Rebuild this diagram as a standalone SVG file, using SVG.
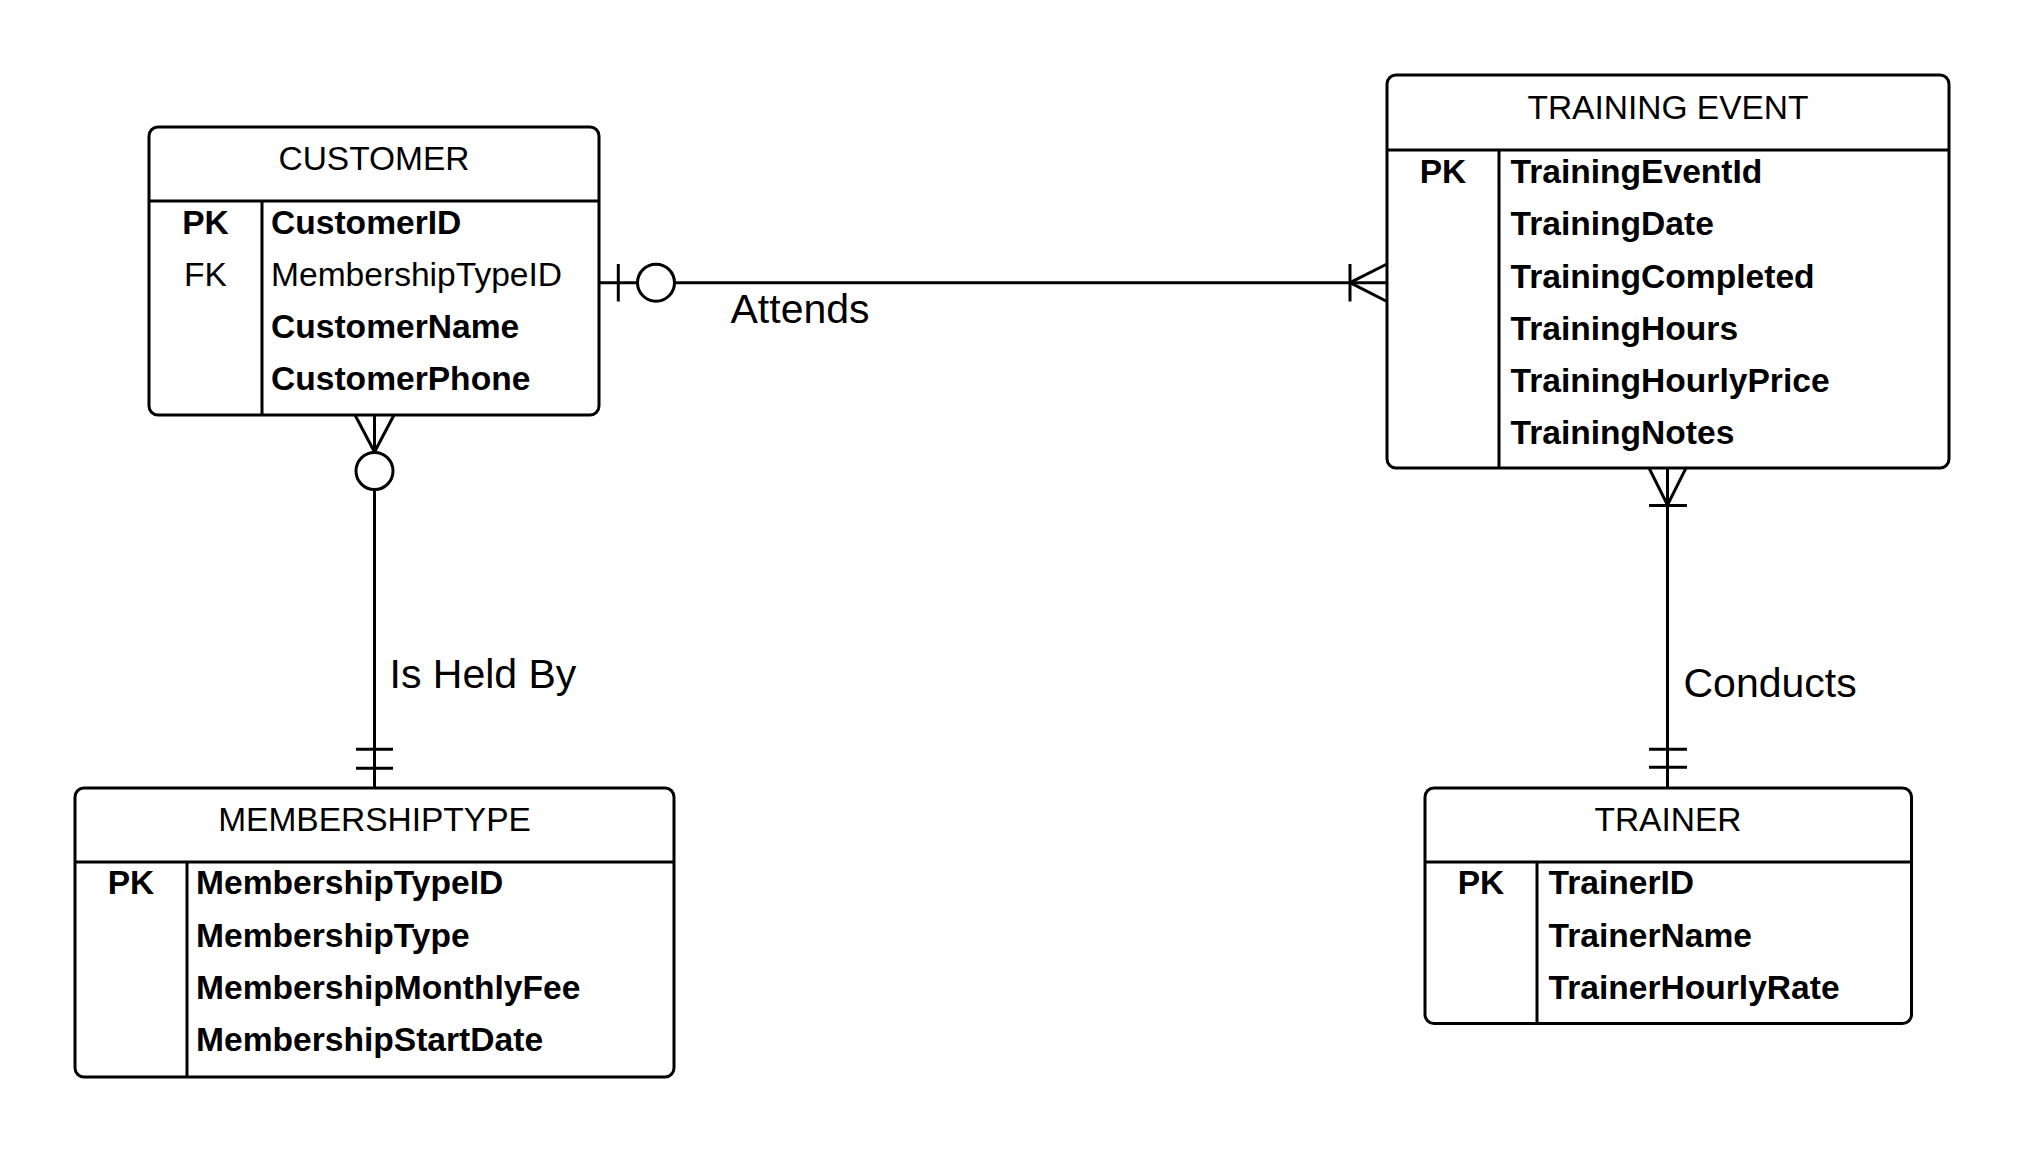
<svg xmlns="http://www.w3.org/2000/svg" width="2025" height="1153" viewBox="0 0 2025 1153">
<style>
.box{fill:#fff;stroke:#000;stroke-width:3}
.ln{stroke:#000;stroke-width:3;fill:none}
.circ{fill:#fff;stroke:#000;stroke-width:3}
text{font-family:"Liberation Sans",Arial,sans-serif;fill:#000}
.title{font-size:33.5px;text-anchor:middle}
.key{font-size:33.5px;text-anchor:middle}
.f{font-size:33.6px}
.b{font-weight:bold}
.lbl{font-size:41px}
</style>
<rect width="2025" height="1153" fill="#fff"/>
<g id="connectors">
  <g id="attends">
    <line class="ln" x1="599" y1="282.7" x2="1387" y2="282.7"/>
    <line class="ln" x1="618.3" y1="264" x2="618.3" y2="301.5"/>
    <circle class="circ" cx="656" cy="282.7" r="18.5"/>
    <line class="ln" x1="1350" y1="282.7" x2="1387" y2="264"/>
    <line class="ln" x1="1350" y1="282.7" x2="1387" y2="301.5"/>
    <line class="ln" x1="1350" y1="264" x2="1350" y2="301.5"/>
    <text class="lbl" x="730.5" y="322.7">Attends</text>
  </g>
  <g id="isheldby">
    <line class="ln" x1="374.5" y1="415" x2="374.5" y2="788"/>
    <line class="ln" x1="355" y1="415" x2="374.5" y2="452"/>
    <line class="ln" x1="394" y1="415" x2="374.5" y2="452"/>
    <circle class="circ" cx="374.5" cy="471" r="18.5"/>
    <line class="ln" x1="356" y1="749.3" x2="393" y2="749.3"/>
    <line class="ln" x1="356" y1="768.3" x2="393" y2="768.3"/>
    <text class="lbl" x="389.5" y="688.3">Is Held By</text>
  </g>
  <g id="conducts">
    <line class="ln" x1="1667.5" y1="468" x2="1667.5" y2="788"/>
    <line class="ln" x1="1649" y1="468" x2="1667.5" y2="505"/>
    <line class="ln" x1="1686" y1="468" x2="1667.5" y2="505"/>
    <line class="ln" x1="1649" y1="505.5" x2="1687" y2="505.5"/>
    <line class="ln" x1="1649" y1="749.3" x2="1687" y2="749.3"/>
    <line class="ln" x1="1649" y1="767.3" x2="1687" y2="767.3"/>
    <text class="lbl" x="1683.5" y="697.3">Conducts</text>
  </g>
</g>
<g id="customer">
  <rect class="box" x="149" y="127" width="450" height="288" rx="9"/>
  <line class="ln" x1="149" y1="201" x2="599" y2="201"/>
  <line class="ln" x1="262" y1="201" x2="262" y2="415"/>
  <text class="title" x="374" y="170">CUSTOMER</text>
  <text class="key b" x="205.5" y="234">PK</text>
  <text class="key" x="205.5" y="286">FK</text>
  <text class="f b" x="271" y="234">CustomerID</text>
  <text class="f" x="271" y="286">MembershipTypeID</text>
  <text class="f b" x="271" y="338.3">CustomerName</text>
  <text class="f b" x="271" y="390">CustomerPhone</text>
</g>
<g id="training-event">
  <rect class="box" x="1387" y="75" width="562" height="393" rx="9"/>
  <line class="ln" x1="1387" y1="150" x2="1949" y2="150"/>
  <line class="ln" x1="1499" y1="150" x2="1499" y2="468"/>
  <text class="title" x="1668" y="119">TRAINING EVENT</text>
  <text class="key b" x="1443" y="182.7">PK</text>
  <text class="f b" x="1510.5" y="182.7">TrainingEventId</text>
  <text class="f b" x="1510.5" y="235">TrainingDate</text>
  <text class="f b" x="1510.5" y="287.5">TrainingCompleted</text>
  <text class="f b" x="1510.5" y="339.5">TrainingHours</text>
  <text class="f b" x="1510.5" y="391.7">TrainingHourlyPrice</text>
  <text class="f b" x="1510.5" y="443.5">TrainingNotes</text>
</g>
<g id="membershiptype">
  <rect class="box" x="75" y="788" width="599" height="289" rx="9"/>
  <line class="ln" x1="75" y1="862" x2="674" y2="862"/>
  <line class="ln" x1="187" y1="862" x2="187" y2="1077"/>
  <text class="title" x="374.5" y="831">MEMBERSHIPTYPE</text>
  <text class="key b" x="131" y="894.3">PK</text>
  <text class="f b" x="196" y="894.3">MembershipTypeID</text>
  <text class="f b" x="196" y="946.7">MembershipType</text>
  <text class="f b" x="196" y="999">MembershipMonthlyFee</text>
  <text class="f b" x="196" y="1051">MembershipStartDate</text>
</g>
<g id="trainer">
  <rect class="box" x="1425" y="788" width="486.5" height="235.5" rx="9"/>
  <line class="ln" x1="1425" y1="862" x2="1911.5" y2="862"/>
  <line class="ln" x1="1537" y1="862" x2="1537" y2="1023.5"/>
  <text class="title" x="1668" y="831">TRAINER</text>
  <text class="key b" x="1481" y="894.3">PK</text>
  <text class="f b" x="1548.5" y="894.3">TrainerID</text>
  <text class="f b" x="1548.5" y="946.7">TrainerName</text>
  <text class="f b" x="1548.5" y="999">TrainerHourlyRate</text>
</g>
</svg>
